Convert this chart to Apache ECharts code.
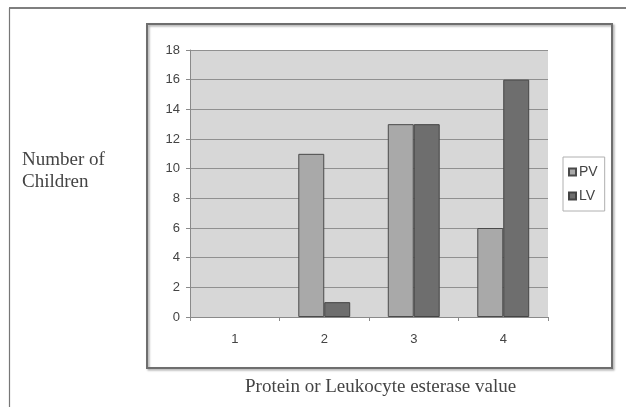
<!DOCTYPE html>
<html>
<head>
<meta charset="utf-8">
<script src="https://cdn.jsdelivr.net/npm/echarts@6/dist/echarts.min.js"></script>
<style>html,body{margin:0;padding:0;background:#fff;}#c{width:626px;height:407px;}</style>
</head>
<body>
<div id="c"></div>
<script>
var categories = ['1', '2', '3', '4'];
var pvValues = [0, 11, 13, 6];
var lvValues = [0, 1, 13, 16];
var yTicks = { min: 0, max: 18, interval: 2 };

function hideZero(arr) {
  return arr.map(function (v) { return v === 0 ? { value: 0, itemStyle: { borderWidth: 0, opacity: 0 } } : v; });
}

var chart = echarts.init(document.getElementById('c'), null, { renderer: 'canvas' });
chart.setOption({
  backgroundColor: '#ffffff',
  animation: false,
  grid: {
    left: 190, right: 78, top: 50, bottom: 90,
    show: true, backgroundColor: '#d7d7d7', borderWidth: 0
  },
  legend: {
    orient: 'vertical', left: 563, top: 157,
    itemWidth: 7, itemHeight: 7, itemGap: 10,
    borderColor: '#b0b0b0', borderWidth: 1,
    padding: [8, 7, 8, 5],
    textStyle: { fontFamily: 'Liberation Sans, Arial, sans-serif', fontSize: 14, color: '#444', padding: [0, 0, 0, -2] },
    data: [{ name: 'PV', icon: 'rect' }, { name: 'LV', icon: 'rect' }]
  },
  xAxis: {
    type: 'category', data: categories,
    axisLine: { lineStyle: { color: '#8a8a8a', width: 1 } },
    axisTick: { show: true, length: 4, lineStyle: { color: '#8a8a8a' } },
    axisLabel: { margin: 16, fontSize: 13, color: '#444', fontFamily: 'Liberation Sans, Arial, sans-serif' }
  },
  yAxis: {
    type: 'value', min: yTicks.min, max: yTicks.max, interval: yTicks.interval,
    axisLine: { show: true, lineStyle: { color: '#8a8a8a' } },
    axisTick: { show: true, length: 4, lineStyle: { color: '#8a8a8a' } },
    splitLine: { lineStyle: { color: '#909090', width: 1 } },
    axisLabel: { margin: 10, fontSize: 13, color: '#444', fontFamily: 'Liberation Sans, Arial, sans-serif' }
  },
  series: [
    { name: 'PV', type: 'bar', data: hideZero(pvValues), barGap: '0%', barCategoryGap: '42%',
      itemStyle: { color: '#a9a9a9', borderColor: '#4a4a4a', borderWidth: 1 } },
    { name: 'LV', type: 'bar', data: hideZero(lvValues),
      itemStyle: { color: '#6e6e6e', borderColor: '#444', borderWidth: 1 } }
  ],
  graphic: [
    { type: 'line', shape: { x1: 9, y1: 8, x2: 626, y2: 8 }, style: { stroke: '#555', lineWidth: 1.5 }, silent: true },
    { type: 'line', shape: { x1: 9.5, y1: 8, x2: 9.5, y2: 407 }, style: { stroke: '#777', lineWidth: 1.2 }, silent: true },
    { type: 'rect', shape: { x: 147, y: 24, width: 465, height: 344 },
      style: { fill: 'none', stroke: '#6e6e6e', lineWidth: 2, shadowColor: 'rgba(0,0,0,0.35)', shadowBlur: 2, shadowOffsetX: 1.5, shadowOffsetY: 1.5 }, silent: true, z: -1 },
    { type: 'text', left: 22, top: 149,
      style: { text: 'Number of\nChildren', font: '19px "Liberation Serif", "Times New Roman", serif', fill: '#444', lineHeight: 22 } },
    { type: 'text', left: 245, top: 378,
      style: { text: 'Protein or Leukocyte esterase value', font: '19px "Liberation Serif", "Times New Roman", serif', fill: '#444' } }
  ]
});
</script>
</body>
</html>
